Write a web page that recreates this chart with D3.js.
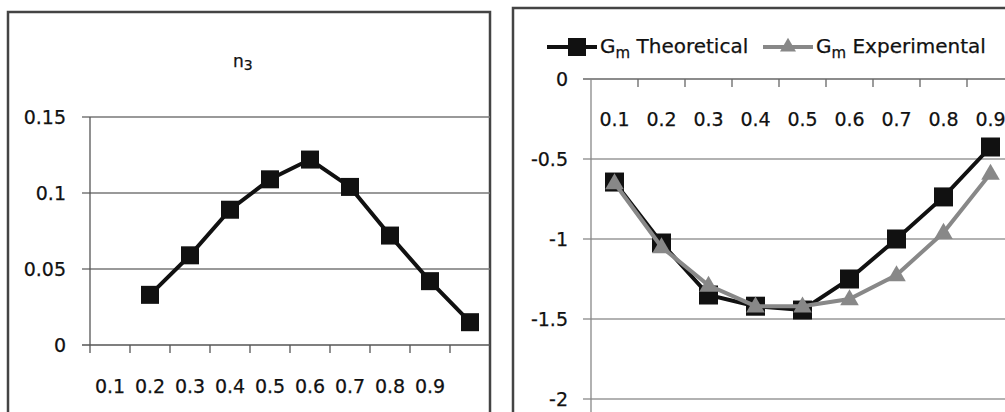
<!DOCTYPE html>
<html>
<head>
<meta charset="utf-8">
<script src="https://cdn.jsdelivr.net/npm/d3@7"></script>
<style>
  body { margin: 0; background: #fff; }
  svg { display: block; font-family: "DejaVu Sans", sans-serif; }
  text { fill: #111; stroke: #111; stroke-width: 0.25px; }
</style>
</head>
<body>
<svg id="chart" width="1005" height="412"></svg>
<script>
// left chart: n3, one blank category in front of the data
var leftCats = ["0.1","0.2","0.3","0.4","0.5","0.6","0.7","0.8","0.9",""];
var n3Values = [null, 0.033, 0.059, 0.089, 0.109, 0.122, 0.104, 0.072, 0.042, 0.015];
var leftTicks = [0, 0.05, 0.1, 0.15];

// right chart: Gm
var rightCats = ["0.1","0.2","0.3","0.4","0.5","0.6","0.7","0.8","0.9"];
var gmTheo = [-0.644, -1.025, -1.35, -1.42, -1.444, -1.25, -1.0, -0.737, -0.425];
var gmExp = [-0.65, -1.05, -1.29, -1.42, -1.42, -1.375, -1.225, -0.96, -0.59];
var rightTicks = [0, -0.5, -1, -1.5, -2];

var svg = d3.select("#chart");

// panel frames
svg.append("rect").attr("x", 8).attr("y", 12).attr("width", 482).attr("height", 420)
  .attr("fill", "none").attr("stroke", "#444").attr("stroke-width", 2.5);
svg.append("rect").attr("x", 513).attr("y", 8).attr("width", 520).attr("height", 420)
  .attr("fill", "none").attr("stroke", "#444").attr("stroke-width", 2.5);

var drawSquares = function(g, data, x, y, size, color){
  g.selectAll("rect.m").data(data).enter()
    .filter(function(d){ return d.v != null; })
    .append("rect").attr("class", "m")
    .attr("x", function(d){ return x(d.c) + x.bandwidth()/2 - size/2; })
    .attr("y", function(d){ return y(d.v) - size/2; })
    .attr("width", size).attr("height", size)
    .attr("fill", color);
};

// ---------- left ----------
var xL = d3.scaleBand().domain(leftCats).range([90, 490]);
var yL = d3.scaleLinear().domain([0, 0.15]).range([345, 117]);
var gL = svg.append("g");

gL.selectAll("line.grid").data(leftTicks).enter().append("line")
  .attr("x1", 82).attr("x2", 490)
  .attr("y1", function(d){ return yL(d); }).attr("y2", function(d){ return yL(d); })
  .attr("stroke", function(d){ return d === 0 ? "#555" : "#777"; }).attr("stroke-width", 1.3);
gL.append("line").attr("x1", 90).attr("x2", 90).attr("y1", yL(0.15)).attr("y2", yL(0))
  .attr("stroke", "#555").attr("stroke-width", 1.3);

// boundary ticks below the axis
gL.selectAll("line.tk").data(leftCats).enter().append("line")
  .attr("x1", function(d){ return xL(d); }).attr("x2", function(d){ return xL(d); })
  .attr("y1", yL(0)).attr("y2", yL(0) + 8)
  .attr("stroke", "#555").attr("stroke-width", 1.3);

gL.selectAll("text.yl").data(leftTicks).enter().append("text")
  .attr("x", 66).attr("y", function(d){ return yL(d); }).attr("dy", "0.36em")
  .attr("text-anchor", "end").attr("font-size", 19)
  .text(function(d){ return d; });

gL.selectAll("text.xl").data(leftCats).enter().append("text")
  .attr("x", function(d){ return xL(d) + xL.bandwidth()/2; }).attr("y", 393)
  .attr("text-anchor", "middle").attr("font-size", 19)
  .text(function(d){ return d; });

var leftData = leftCats.map(function(c, i){ return {c: c, v: n3Values[i]}; });
var lineL = d3.line()
  .defined(function(d){ return d.v != null; })
  .x(function(d){ return xL(d.c) + xL.bandwidth()/2; })
  .y(function(d){ return yL(d.v); });
gL.append("path").datum(leftData).attr("d", lineL)
  .attr("fill", "none").attr("stroke", "#111").attr("stroke-width", 4);
drawSquares(gL, leftData, xL, yL, 18, "#111");

var tL = gL.append("text").attr("x", 233).attr("y", 67).attr("font-size", 17);
tL.append("tspan").text("n");
tL.append("tspan").attr("dy", 3).attr("font-size", 14).text("3");

// ---------- right ----------
var xR = d3.scaleBand().domain(rightCats).range([591, 1014]);
var yR = d3.scaleLinear().domain([-2, 0]).range([399, 79]);
var gR = svg.append("g");

gR.selectAll("line.grid").data(rightTicks).enter().append("line")
  .attr("x1", 583).attr("x2", 1005)
  .attr("y1", function(d){ return yR(d); }).attr("y2", function(d){ return yR(d); })
  .attr("stroke", function(d){ return d === 0 ? "#666" : "#999"; }).attr("stroke-width", 1.3);
gR.append("line").attr("x1", 591).attr("x2", 591).attr("y1", yR(0)).attr("y2", 412)
  .attr("stroke", "#888").attr("stroke-width", 1.3);

gR.selectAll("line.tk").data(rightCats).enter().append("line")
  .attr("x1", function(d){ return xR(d) + xR.bandwidth(); }).attr("x2", function(d){ return xR(d) + xR.bandwidth(); })
  .attr("y1", yR(0)).attr("y2", yR(0) + 8)
  .attr("stroke", "#666").attr("stroke-width", 1.3);

gR.selectAll("text.yl").data(rightTicks).enter().append("text")
  .attr("x", 568).attr("y", function(d){ return yR(d); }).attr("dy", "0.36em")
  .attr("text-anchor", "end").attr("font-size", 19)
  .text(function(d){ return d; });

gR.selectAll("text.xl").data(rightCats).enter().append("text")
  .attr("x", function(d){ return xR(d) + xR.bandwidth()/2; }).attr("y", 126)
  .attr("text-anchor", "middle").attr("font-size", 19)
  .text(function(d){ return d; });

var theoData = rightCats.map(function(c, i){ return {c: c, v: gmTheo[i]}; });
var expData = rightCats.map(function(c, i){ return {c: c, v: gmExp[i]}; });
var lineR = d3.line()
  .x(function(d){ return xR(d.c) + xR.bandwidth()/2; })
  .y(function(d){ return yR(d.v); });

gR.append("path").datum(theoData).attr("d", lineR)
  .attr("fill", "none").attr("stroke", "#111").attr("stroke-width", 4);
drawSquares(gR, theoData, xR, yR, 19, "#111");

gR.append("path").datum(expData).attr("d", lineR)
  .attr("fill", "none").attr("stroke", "#888").attr("stroke-width", 4);
var tri = d3.symbol().type(d3.symbolTriangle).size(150);
gR.selectAll("path.tri").data(expData).enter().append("path")
  .attr("d", tri)
  .attr("transform", function(d){ return "translate(" + (xR(d.c) + xR.bandwidth()/2) + "," + (yR(d.v) + 1) + ")"; })
  .attr("fill", "#888");

// legend
var legend = [
  {name: " Theoretical", color: "#111", x: 547, marker: "square"},
  {name: " Experimental", color: "#888", x: 763, marker: "tri"}
];
var lg = gR.selectAll("g.lg").data(legend).enter().append("g")
  .attr("transform", function(d){ return "translate(" + d.x + ",47)"; });
lg.append("line").attr("x1", 0).attr("x2", 50)
  .attr("stroke", function(d){ return d.color; }).attr("stroke-width", 4);
lg.filter(function(d){ return d.marker === "square"; }).append("rect")
  .attr("x", 21).attr("y", -9).attr("width", 18).attr("height", 18).attr("fill", "#111");
lg.filter(function(d){ return d.marker === "tri"; }).append("path")
  .attr("d", d3.symbol().type(d3.symbolTriangle).size(110))
  .attr("transform", "translate(25,0)").attr("fill", "#888");
var lt = lg.append("text").attr("x", 53).attr("y", 6).attr("font-size", 20);
lt.append("tspan").text("G");
lt.append("tspan").attr("dy", 5).attr("font-size", 15).text("m");
lt.append("tspan").attr("dy", -5).text(function(d){ return d.name; });
</script>
</body>
</html>
